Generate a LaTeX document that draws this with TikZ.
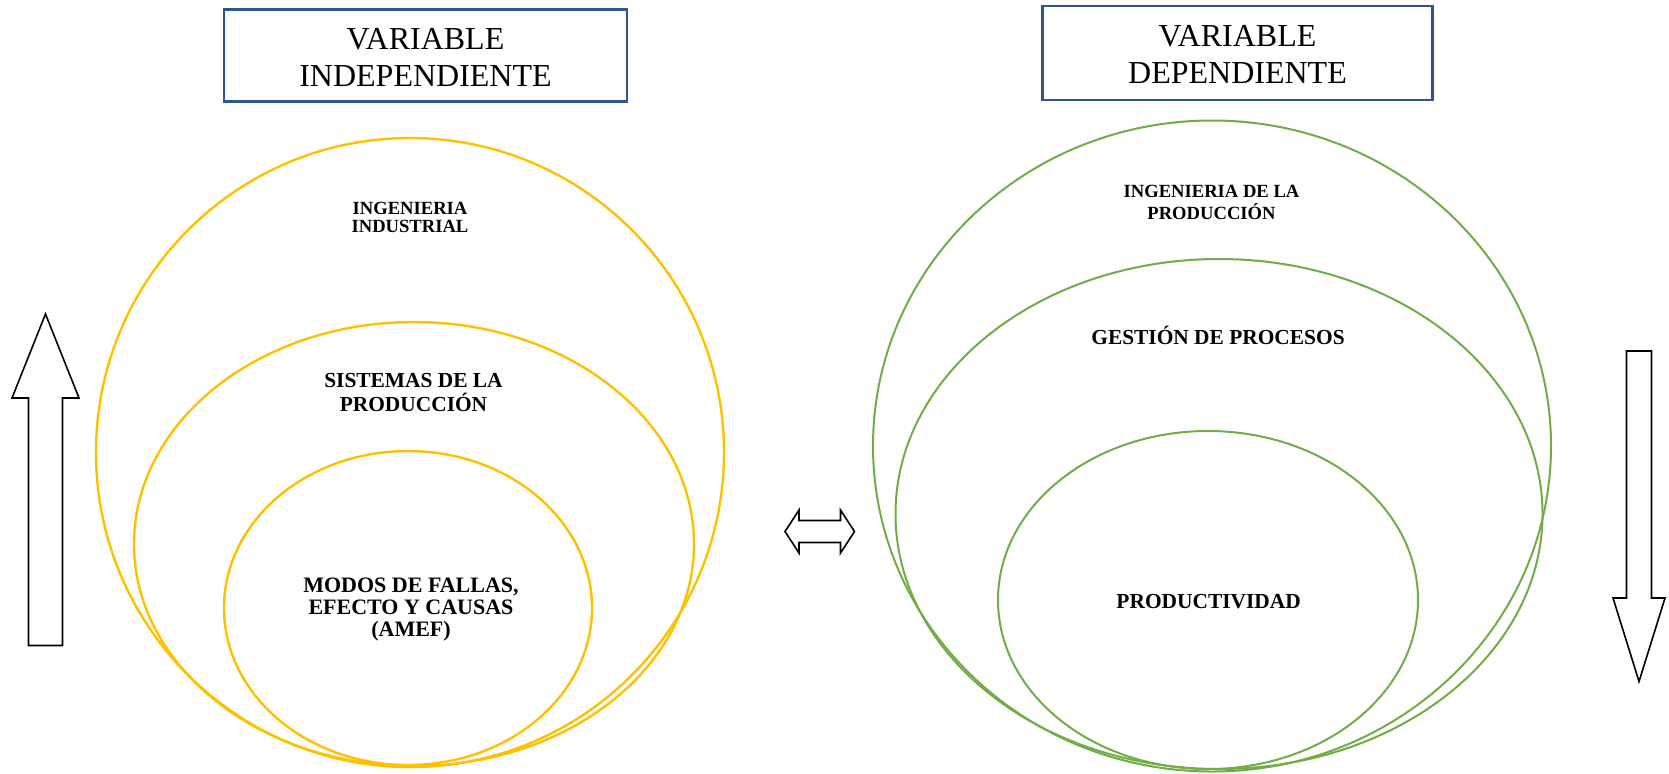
\documentclass[tikz,border=0pt]{standalone}
\usepackage{fontspec}
\setmainfont{Liberation Serif}
\usetikzlibrary{shapes.geometric}
\definecolor{ylw}{HTML}{FFC000}
\definecolor{grn}{HTML}{70AD47}
\definecolor{bluebox}{HTML}{2F5496}
\newcommand\lbl[3]{\fontsize{#1}{#2}\selectfont\begin{tabular}[t]{@{}c@{}}#3\end{tabular}}
\tikzset{
  titlebox/.style={draw=bluebox, line width=1.35pt, fill=white, inner sep=0pt},
  yel/.style={ellipse, draw=ylw, line width=1.2pt, inner sep=0pt},
  gre/.style={ellipse, draw=grn, line width=1pt, inner sep=0pt},
  txt/.style={anchor=base, inner sep=0pt, font=\bfseries},
  ttl/.style={anchor=base, inner sep=0pt},
  blockarrow/.style={draw=black, line width=0.8pt, fill=white, line join=miter}
}
\begin{document}
\begin{tikzpicture}[x=0.5pt,y=-0.5pt]
\useasboundingbox (0,0) rectangle (1669,773);
% title boxes
\node[titlebox, minimum width=201.5pt, minimum height=46pt] (boxL) at (425.5,55.5) {};
\node[titlebox, minimum width=195pt, minimum height=47pt] (boxR) at (1237.5,53) {};
\node[ttl] (tL) at (425.5,49.3) {\lbl{16pt}{18.5pt}{VARIABLE\\INDEPENDIENTE}};
\node[ttl] (tR) at (1237.5,46.7) {\lbl{16pt}{18.5pt}{VARIABLE\\DEPENDIENTE}};
% yellow ellipses
\node[yel, minimum width=314pt, minimum height=314.5pt] (y1) at (410,452.5) {};
\node[yel, minimum width=280pt, minimum height=222pt] (y2) at (414,544) {};
\node[yel, minimum width=184pt, minimum height=157pt] (y3) at (408,608) {};
\node[txt] (ly1) at (410,214) {\lbl{9.3pt}{9.35pt}{INGENIERIA\\INDUSTRIAL}};
\node[txt] (ly2) at (413.5,387.3) {\lbl{10.7pt}{10.5pt}{SISTEMAS DE LA\\PRODUCCIÓN}};
\node[txt] (ly3) at (411,592.7) {\lbl{11pt}{11pt}{MODOS DE FALLAS,\\EFECTO Y CAUSAS\\(AMEF)}};
% green ellipses
\node[gre, minimum width=339pt, minimum height=325.5pt] (g1) at (1212,446) {};
\node[gre, minimum width=323.5pt, minimum height=255pt] (g2) at (1219,514) {};
\node[gre, minimum width=210pt, minimum height=169pt] (g3) at (1208,600) {};
\node[txt] (lg1) at (1211.5,197.7) {\lbl{9.3pt}{9.8pt}{INGENIERIA DE LA\\PRODUCCIÓN}};
\node[txt] (lg2) at (1218,344.3) {\lbl{10.7pt}{10.7pt}{GESTIÓN DE PROCESOS}};
\node[txt] (lg3) at (1208.6,608) {\lbl{10.7pt}{10.7pt}{PRODUCTIVIDAD}};
% block arrows
\draw[blockarrow] (28.5,645.5) -- (28.5,398) -- (12,398) -- (45.5,314) -- (79,398) -- (62.5,398) -- (62.5,645.5) -- cycle;
\draw[blockarrow] (1626.5,351) -- (1651.5,351) -- (1651.5,598) -- (1665,598) -- (1639,681.5) -- (1613,598) -- (1626.5,598) -- cycle;
\draw[blockarrow] (785,531.5) -- (799,510) -- (799,520.5) -- (840.5,520.5) -- (840.5,510) -- (854.5,531.5) -- (840.5,553) -- (840.5,542.5) -- (799,542.5) -- (799,553) -- cycle;
\end{tikzpicture}
\end{document}
